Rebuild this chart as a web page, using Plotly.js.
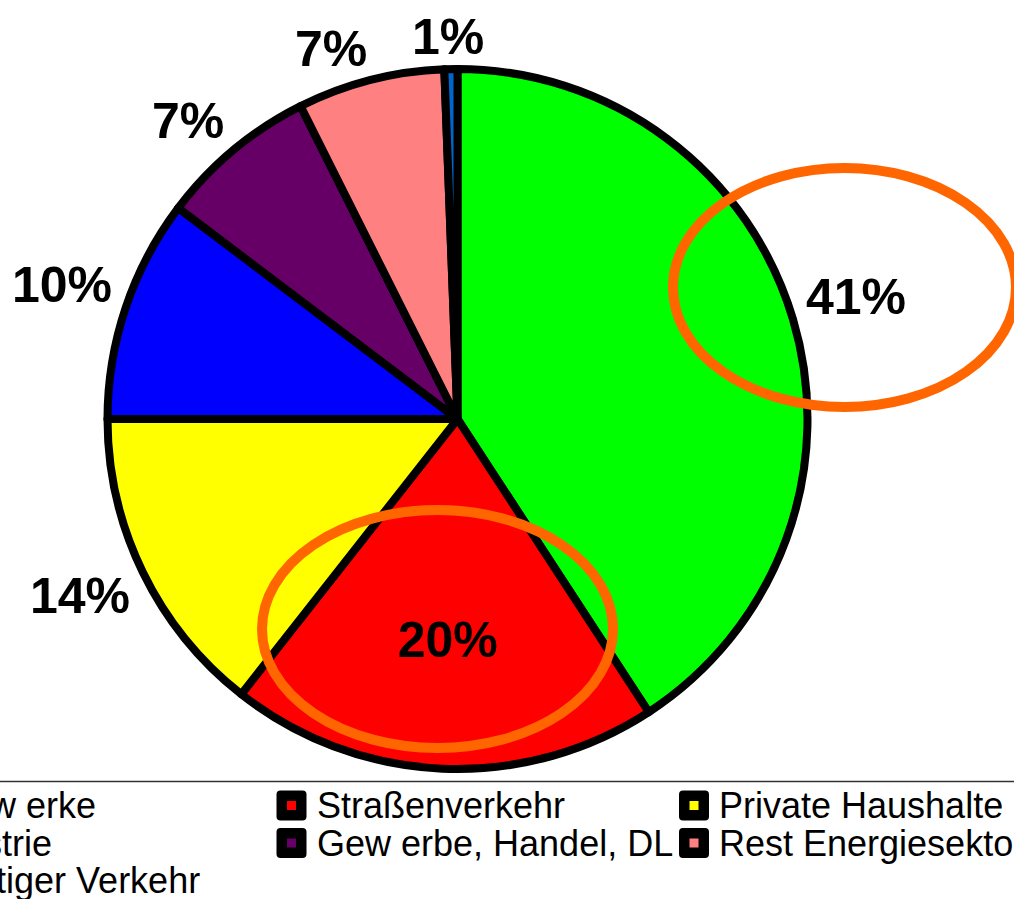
<!DOCTYPE html>
<html>
<head>
<meta charset="utf-8">
<script src="https://cdn.plot.ly/plotly-3.0.1.min.js"></script>
<style>
  html, body { margin: 0; padding: 0; background: #ffffff; }
  #chart { width: 1014px; height: 899px; }
</style>
</head>
<body>
<div id="chart"></div>
<script>
// ---- data ----
var categories = ['Kraftw erke', 'Straßenverkehr', 'Private Haushalte', 'Industrie',
                  'Gew erbe, Handel, DL', 'Rest Energiesektor', 'Sonstiger Verkehr'];
var shares = [40.8, 19.8, 14.4, 10.3, 7.3, 6.8, 0.6];
var sliceColors = ['#00FF00', '#FF0000', '#FFFF00', '#0000FF', '#660066', '#FF8080', '#0066CC'];
// which percentage label sits inside its slice (the others sit outside the pie)
var labelInside = [false, true, false, false, false, false, false];
var legendColumns = 3;

// ---- geometry helpers (figure pixels -> paper) ----
var W = 1014, H = 899;
function px(x) { return x / W; }
function py(y) { return 1 - y / H; }

var cx = 457.5, cy = 419, R = 350;
var FONT = 'Liberation Sans, Arial, sans-serif';
var labelSize = 50;

var trace = {
  type: 'pie',
  labels: categories,
  values: shares,
  sort: false,
  direction: 'clockwise',
  rotation: 0,
  marker: { colors: sliceColors, line: { color: '#000000', width: 8 } },
  texttemplate: '%{percent:.0%}',
  textposition: labelInside.map(function (b) { return b ? 'inside' : 'none'; }),
  insidetextorientation: 'horizontal',
  insidetextfont: { family: FONT, size: labelSize, color: '#000000', weight: 'bold' },
  domain: { x: [px(cx - R), px(cx + R)], y: [py(cy + R), py(cy - R)] },
  hoverinfo: 'label+percent',
  showlegend: false
};

var shapes = [];
var annotations = [];

// ---- outside percentage labels, placed from the cumulative shares ----
var ctx = document.createElement('canvas').getContext('2d');
ctx.font = 'bold ' + labelSize + 'px "Liberation Sans", Arial, sans-serif';
var total = shares.reduce(function (a, b) { return a + b; }, 0);
var cum = 0;
var Rl = R + 14;
function soft(t) { return Math.max(-1, Math.min(1, t / 0.25)); }
shares.forEach(function (v, i) {
  var mid = (cum + v / 2) / total * 2 * Math.PI;
  cum += v;
  if (labelInside[i]) return;
  var txt = Math.round(v / total * 100) + '%';
  var w = ctx.measureText(txt).width;
  var h = 0.716 * labelSize;
  var sx = Math.sin(mid), sy = -Math.cos(mid);
  var lx = cx + Rl * sx + (w / 2) * soft(sx);
  var ly = cy + Rl * sy + (h / 2) * soft(sy);
  annotations.push({
    xref: 'paper', yref: 'paper', x: px(lx), y: py(ly),
    xanchor: 'center', yanchor: 'middle', showarrow: false, text: txt,
    font: { family: FONT, size: labelSize, color: '#000000', weight: 'bold' }
  });
});

// ---- custom legend (markers + labels) ----
var colX = [-111, 291.5, 694];
var rowY = [805.5, 843, 880];
var rr = 4, hs = 15;
var roundPath = 'M ' + (-hs + rr) + ' ' + (-hs) + ' H ' + (hs - rr) + ' Q ' + hs + ' ' + (-hs) + ' ' + hs + ' ' + (-hs + rr) +
  ' V ' + (hs - rr) + ' Q ' + hs + ' ' + hs + ' ' + (hs - rr) + ' ' + hs + ' H ' + (-hs + rr) +
  ' Q ' + (-hs) + ' ' + hs + ' ' + (-hs) + ' ' + (hs - rr) + ' V ' + (-hs + rr) + ' Q ' + (-hs) + ' ' + (-hs) + ' ' + (-hs + rr) + ' ' + (-hs) + ' Z';

categories.forEach(function (name, i) {
  var c = i % legendColumns, r = Math.floor(i / legendColumns);
  var mx = colX[c], my = rowY[r];
  shapes.push({
    type: 'path', xref: 'paper', yref: 'paper', xsizemode: 'pixel', ysizemode: 'pixel',
    xanchor: px(mx), yanchor: py(my), path: roundPath,
    fillcolor: '#000000', line: { width: 0 }, layer: 'above'
  });
  shapes.push({
    type: 'rect', xref: 'paper', yref: 'paper', xsizemode: 'pixel', ysizemode: 'pixel',
    xanchor: px(mx), yanchor: py(my), x0: -4.5, x1: 4.5, y0: -4.5, y1: 4.5,
    fillcolor: sliceColors[i], line: { width: 0 }, layer: 'above'
  });
  annotations.push({
    xref: 'paper', yref: 'paper', x: px(mx + 23), y: py(my),
    xanchor: 'left', yanchor: 'middle', showarrow: false, text: name,
    font: { family: FONT, size: 36, color: '#000000' }
  });
});

// legend separator line
shapes.push({
  type: 'line', xref: 'paper', yref: 'paper', x0: 0, x1: 1, y0: py(781.5), y1: py(781.5),
  line: { color: '#333333', width: 1.5 }
});

// orange highlight ellipses
shapes.push({
  type: 'circle', xref: 'paper', yref: 'paper',
  x0: px(673), x1: px(1016), y0: py(407), y1: py(168),
  line: { color: '#FF6600', width: 10 }, layer: 'above'
});
shapes.push({
  type: 'circle', xref: 'paper', yref: 'paper',
  x0: px(262), x1: px(613), y0: py(748), y1: py(510),
  line: { color: '#FF6600', width: 10 }, layer: 'above'
});

var layout = {
  width: W, height: H,
  margin: { l: 0, r: 0, t: 0, b: 0 },
  paper_bgcolor: '#ffffff',
  plot_bgcolor: '#ffffff',
  showlegend: false,
  shapes: shapes,
  annotations: annotations,
  font: { family: FONT }
};

Plotly.newPlot('chart', [trace], layout, { displayModeBar: false, staticPlot: true });
</script>
</body>
</html>
